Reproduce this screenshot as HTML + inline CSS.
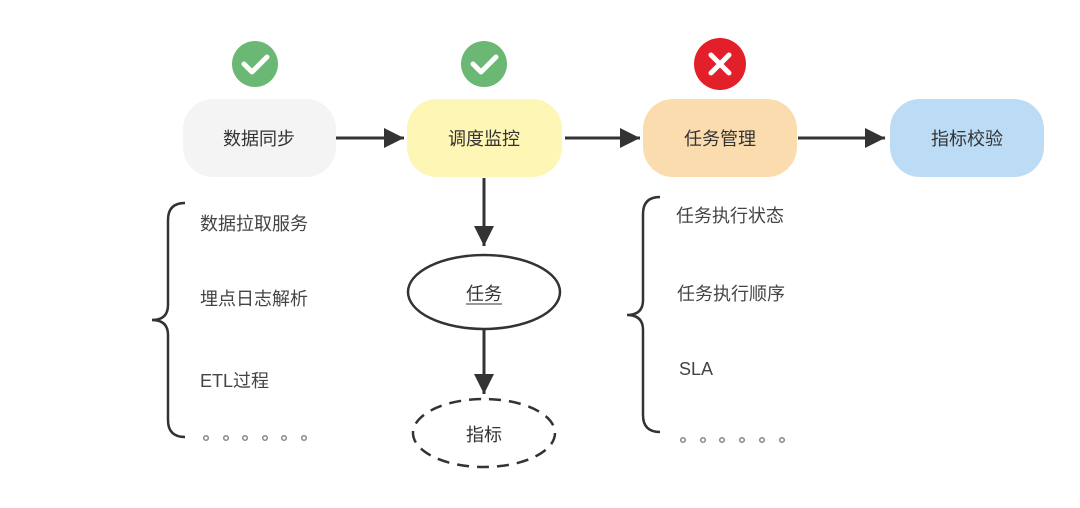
<!DOCTYPE html>
<html><head><meta charset="utf-8"><style>
body{margin:0;background:#fff;}
svg text{font-family:"Liberation Sans","Noto Sans CJK SC",sans-serif;}
</style></head><body>
<svg width="1080" height="503" viewBox="0 0 1080 503" xmlns="http://www.w3.org/2000/svg">
<defs>
<marker id="b" viewBox="0 0 10 10" markerWidth="24" markerHeight="20" refX="10" refY="5" orient="auto" markerUnits="userSpaceOnUse"><path d="M0,0 L10,5 L0,10 z" fill="#333"/></marker></defs>
<circle cx="255" cy="64" r="23" fill="#6bb774"/>
<path d="M244,64 L252,72 L267,57" stroke="#fff" stroke-width="5" fill="none" stroke-linecap="round" stroke-linejoin="round"/>
<circle cx="484" cy="64" r="23" fill="#6bb774"/>
<path d="M473,64 L481,72 L496,57" stroke="#fff" stroke-width="5" fill="none" stroke-linecap="round" stroke-linejoin="round"/>
<circle cx="720" cy="64" r="26" fill="#e3202a"/>
<path d="M711,55 L729,73 M729,55 L711,73" stroke="#fff" stroke-width="5" stroke-linecap="round"/>
<rect x="183" y="99" width="153" height="78" rx="30" fill="#f4f4f4"/>
<rect x="407" y="99" width="155" height="78" rx="30" fill="#fdf6b4"/>
<rect x="643" y="99" width="154" height="78" rx="30" fill="#fbdcae"/>
<rect x="890" y="99" width="154" height="78" rx="30" fill="#bcdcf6"/>
<g font-size="18" fill="#333" text-anchor="middle">
<text x="259" y="145">数据同步</text>
<text x="484" y="145">调度监控</text>
<text x="720" y="145">任务管理</text>
<text x="967" y="145">指标校验</text>
</g>
<g stroke="#333" stroke-width="3" fill="none">
<line x1="336" y1="138" x2="404" y2="138" marker-end="url(#b)"/>
<line x1="565" y1="138" x2="640" y2="138" marker-end="url(#b)"/>
<line x1="798" y1="138" x2="885" y2="138" marker-end="url(#b)"/>
<line x1="484" y1="178" x2="484" y2="246" marker-end="url(#b)"/>
<line x1="484" y1="330" x2="484" y2="394" marker-end="url(#b)"/>
<ellipse cx="484" cy="292" rx="76" ry="37" stroke-width="2.5"/>
<ellipse cx="484" cy="433" rx="71" ry="34" stroke-width="2.5" stroke-dasharray="12,8"/>
<path d="M185,203 Q168,203 168,220 L168,305 Q168,320 152,320 Q168,320 168,335 L168,420 Q168,437 185,437" stroke-width="2.5"/>
<path d="M660,197 Q643,197 643,214 L643,300 Q643,315 627,315 Q643,315 643,330 L643,415 Q643,432 660,432" stroke-width="2.5"/>
</g>
<text x="484" y="300" font-size="18" fill="#333" text-anchor="middle">任务</text>
<line x1="466" y1="304" x2="502" y2="304" stroke="#333" stroke-width="1"/>
<text x="484" y="441" font-size="18" fill="#333" text-anchor="middle">指标</text>
<g font-size="18" fill="#444">
<text x="200" y="230">数据拉取服务</text>
<text x="200" y="305">埋点日志解析</text>
<text x="200" y="387">ETL过程</text>
<text x="676" y="222">任务执行状态</text>
<text x="677" y="300">任务执行顺序</text>
<text x="679" y="375">SLA</text>
</g>
<g fill="none" stroke="#888" stroke-width="1.5">
<circle cx="206" cy="438" r="2.3"/><circle cx="226" cy="438" r="2.3"/><circle cx="245" cy="438" r="2.3"/><circle cx="265" cy="438" r="2.3"/><circle cx="284" cy="438" r="2.3"/><circle cx="304" cy="438" r="2.3"/>
<circle cx="683" cy="440" r="2.3"/><circle cx="703" cy="440" r="2.3"/><circle cx="722" cy="440" r="2.3"/><circle cx="742" cy="440" r="2.3"/><circle cx="762" cy="440" r="2.3"/><circle cx="782" cy="440" r="2.3"/>
</g>
</svg>
</body></html>
